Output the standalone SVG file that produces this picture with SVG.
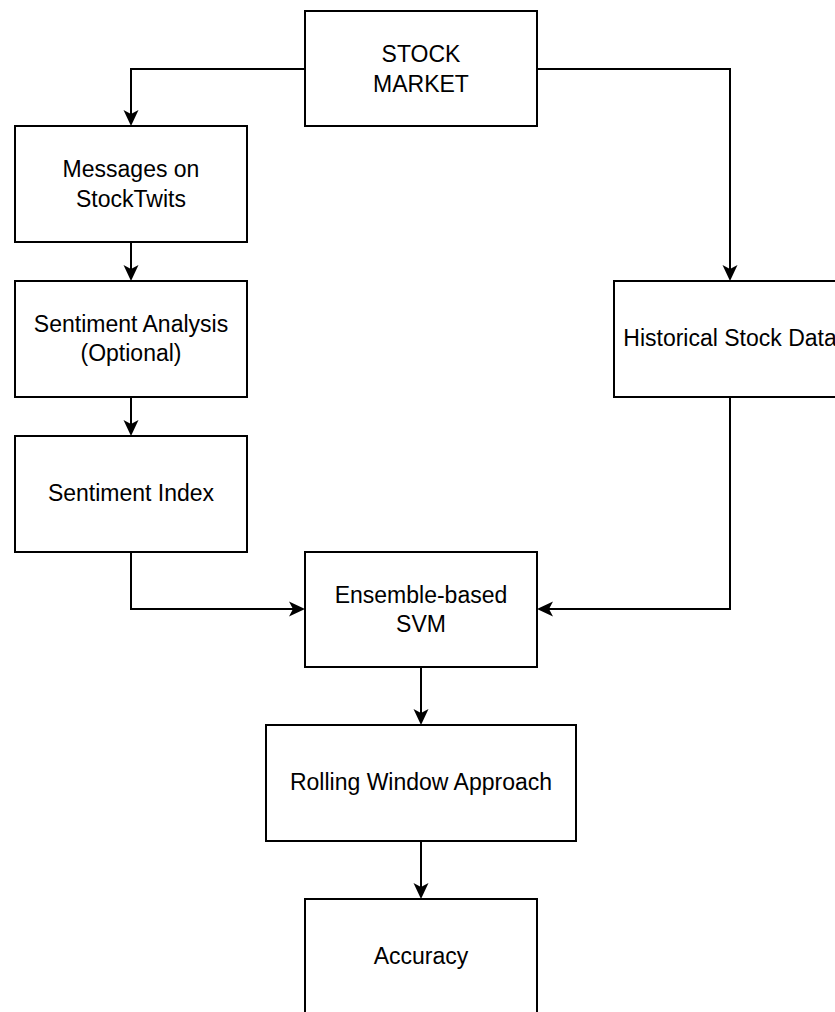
<svg xmlns="http://www.w3.org/2000/svg" width="835" height="1012" viewBox="0 0 835 1012">
<style>
.box{fill:#fff;stroke:#000;stroke-width:2}
.lbl{font-family:"Liberation Sans",Arial,Helvetica,sans-serif;font-size:23px;fill:#000;text-anchor:middle}
.edge{fill:none;stroke:#000;stroke-width:2}
</style>
<defs>
<marker id="arr" viewBox="0 0 16 16" refX="12" refY="8" markerWidth="16" markerHeight="16" markerUnits="userSpaceOnUse" orient="auto">
<path d="M0,0.5 L16,8 L0,15.5 L4,8 Z" fill="#000"/>
</marker>
</defs>
<rect width="835" height="1012" fill="#fff"/>
<g id="connectors">
<path class="edge" d="M305,69 H131 V122" marker-end="url(#arr)"/>
<path class="edge" d="M537,69 H730 V277" marker-end="url(#arr)"/>
<path class="edge" d="M131,242 V277" marker-end="url(#arr)"/>
<path class="edge" d="M131,397 V432" marker-end="url(#arr)"/>
<path class="edge" d="M131,552 V609 H301" marker-end="url(#arr)"/>
<path class="edge" d="M730,397 V609 H541" marker-end="url(#arr)"/>
<path class="edge" d="M421,667 V721" marker-end="url(#arr)"/>
<path class="edge" d="M421,841 V895" marker-end="url(#arr)"/>
</g>
<g id="stock-market">
<rect class="box" x="305" y="11" width="232" height="115"/>
<text class="lbl" x="421" y="62">STOCK</text>
<text class="lbl" x="421" y="92">MARKET</text>
</g>
<g id="messages">
<rect class="box" x="15" y="126" width="232" height="116"/>
<text class="lbl" x="131" y="177">Messages on</text>
<text class="lbl" x="131" y="207">StockTwits</text>
</g>
<g id="sentiment-analysis">
<rect class="box" x="15" y="281" width="232" height="116"/>
<text class="lbl" x="131" y="332">Sentiment Analysis</text>
<text class="lbl" x="131" y="361">(Optional)</text>
</g>
<g id="sentiment-index">
<rect class="box" x="15" y="436" width="232" height="116"/>
<text class="lbl" x="131" y="501">Sentiment Index</text>
</g>
<g id="historical">
<rect class="box" x="614" y="281" width="232" height="116"/>
<text class="lbl" x="730" y="346">Historical Stock Data</text>
</g>
<g id="ensemble">
<rect class="box" x="305" y="552" width="232" height="115"/>
<text class="lbl" x="421" y="603">Ensemble-based</text>
<text class="lbl" x="421" y="632">SVM</text>
</g>
<g id="rolling">
<rect class="box" x="266" y="725" width="310" height="116"/>
<text class="lbl" x="421" y="790">Rolling Window Approach</text>
</g>
<g id="accuracy">
<rect class="box" x="305" y="899" width="232" height="116"/>
<text class="lbl" x="421" y="964">Accuracy</text>
</g>
</svg>
